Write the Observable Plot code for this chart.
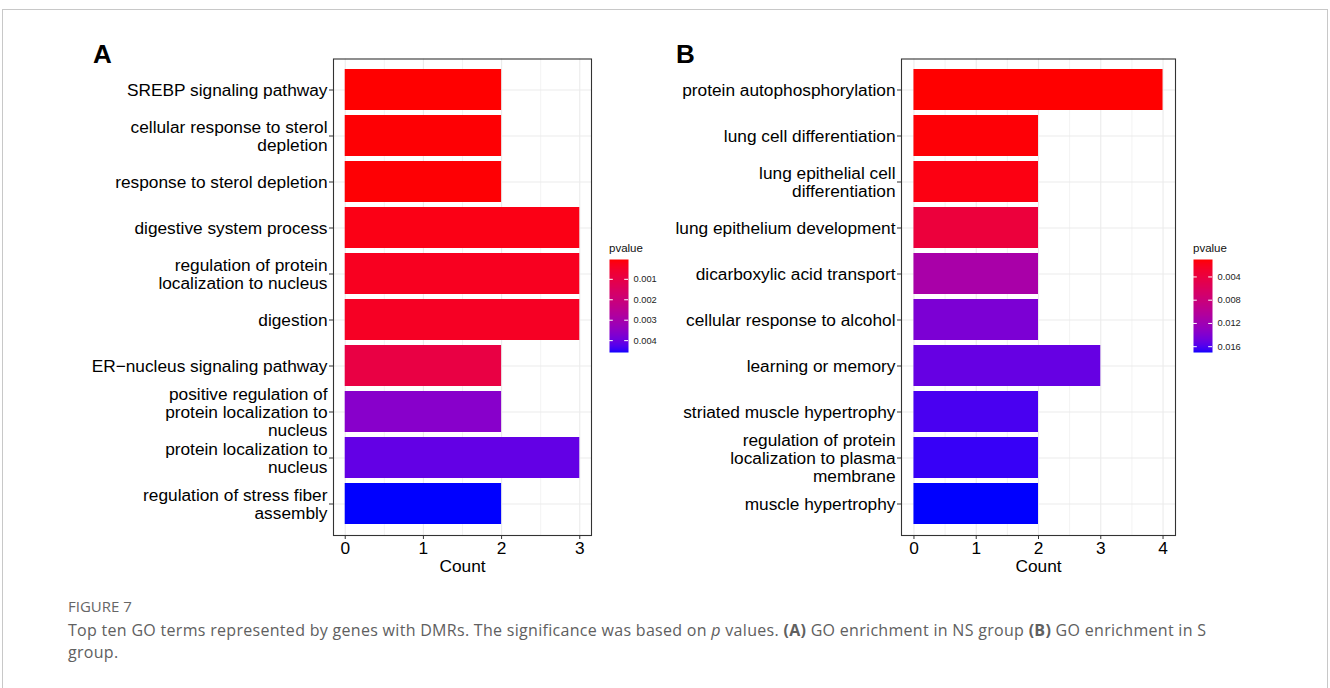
<!DOCTYPE html>
<html>
<head>
<meta charset="utf-8">
<script src="https://cdn.jsdelivr.net/npm/d3@7"></script>
<script src="https://cdn.jsdelivr.net/npm/@observablehq/plot@0.6"></script>
<style>
  html, body { margin: 0; padding: 0; background: #fff; }
  #wrap { position: relative; width: 1330px; height: 688px; overflow: hidden; background: #fff; }
  #box { position: absolute; left: 2px; top: 9px; width: 1326px; height: 720px; border: 1px solid #c8c8c8; box-sizing: border-box; z-index: 10; pointer-events: none; }
  .tag { font-family: "Liberation Sans", Arial, sans-serif; font-weight: bold; font-size: 26px; color: #000; line-height: 1; }
  .ltitle { font-family: "Liberation Sans", Arial, sans-serif; font-size: 11.5px; color: #111; line-height: 1; }
  .figlabel { font-family: "Open Sans", Lato, sans-serif; font-size: 15px; color: #666; line-height: 1.2; }
  .caption { font-family: "Open Sans", Lato, sans-serif; font-size: 16px; letter-spacing: 0.3px; color: #606060; line-height: 22px; white-space: nowrap; }
</style>
</head>
<body>
<div id="wrap">
  <div id="box"></div>
</div>
<script>
// ---- Data: panel A (NS group) ----
const termsA = [
  "SREBP signaling pathway",
  "cellular response to sterol\ndepletion",
  "response to sterol depletion",
  "digestive system process",
  "regulation of protein\nlocalization to nucleus",
  "digestion",
  "ER\u2212nucleus signaling pathway",
  "positive regulation of\nprotein localization to\nnucleus",
  "protein localization to\nnucleus",
  "regulation of stress fiber\nassembly"
];
const countsA = [2, 2, 2, 3, 3, 3, 2, 2, 3, 2];
const pvaluesA = [0.00003, 0.00006, 0.00006, 0.0002, 0.00033, 0.0004, 0.00095, 0.0036, 0.0041, 0.00458];
const xTicksA = [0, 1, 2, 3];
const legendTicksA = [0.001, 0.002, 0.003, 0.004];

// ---- Data: panel B (S group) ----
const termsB = [
  "protein autophosphorylation",
  "lung cell differentiation",
  "lung epithelial cell\ndifferentiation",
  "lung epithelium development",
  "dicarboxylic acid transport",
  "cellular response to alcohol",
  "learning or memory",
  "striated muscle hypertrophy",
  "regulation of protein\nlocalization to plasma\nmembrane",
  "muscle hypertrophy"
];
const countsB = [4, 2, 2, 2, 2, 2, 3, 2, 2, 2];
const pvaluesB = [0.001, 0.00115, 0.0015, 0.0037, 0.0112, 0.0142, 0.0152, 0.0161, 0.0165, 0.017];
const xTicksB = [0, 1, 2, 3, 4];
const legendTicksB = [0.004, 0.008, 0.012, 0.016];

const FONT = "'Liberation Sans', Arial, sans-serif";

function colorScale(pvals) {
  return { type: "linear", domain: d3.extent(pvals), range: ["red", "blue"], interpolate: d3.interpolateLab };
}

function panel(terms, counts, pvals, ticks, width, marginLeft, marginRight) {
  const data = terms.map((t, i) => ({ term: t, count: counts[i], p: pvals[i] }));
  const minor = d3.pairs(ticks).map(([a, b]) => (a + b) / 2);
  const span = ticks[ticks.length - 1] - ticks[0];
  return Plot.plot({
    width, height: 580,
    marginLeft, marginRight, marginTop: 58.5, marginBottom: 45,
    style: { fontFamily: FONT, background: "transparent", color: "#000", overflow: "visible" },
    x: { domain: [ticks[0] - 0.05 * span, ticks[ticks.length - 1] + 0.05 * span] },
    y: { domain: terms, paddingInner: 0.1, paddingOuter: 0.15 },
    color: colorScale(pvals),
    marks: [
      Plot.gridY({ stroke: "#ebebeb", strokeOpacity: 1, strokeWidth: 1.1 }),
      Plot.ruleX(minor, { stroke: "#ebebeb", strokeWidth: 0.6 }),
      Plot.gridX({ ticks, stroke: "#ebebeb", strokeOpacity: 1, strokeWidth: 1.1 }),
      Plot.barX(data, { x: "count", y: "term", fill: "p" }),
      Plot.frame({ stroke: "#333", strokeWidth: 1.1 }),
      Plot.axisY({ tickSize: 4, tickPadding: 2, fontSize: 17.3, lineHeight: 1.05, label: null, stroke: "#333", fill: "#000", textOverflow: null }),
      Plot.axisX({ ticks, tickSize: 4, tickPadding: 2, fontSize: 17.3, label: null, stroke: "#333", fill: "#000", tickFormat: d3.format("d") }),
      Plot.text(["Count"], { frameAnchor: "bottom", dy: 36, fontSize: 17.3, fill: "#000" })
    ]
  });
}

function legend(pvals, ticks) {
  const [lo, hi] = d3.extent(pvals);
  return Plot.plot({
    width: 70, height: 93,
    marginTop: 0, marginBottom: 0, marginLeft: 0, marginRight: 51,
    style: { fontFamily: FONT, background: "transparent", overflow: "visible" },
    x: { domain: [0, 1], axis: null },
    y: { domain: [lo, hi], reverse: true },
    color: colorScale(pvals),
    marks: [
      Plot.raster({ x1: 0, x2: 1, y1: lo, y2: hi, width: 1, height: 200, fill: (x, y) => y, imageRendering: "auto" }),
      Plot.ruleY(ticks, { y: d => d, x1: 0, x2: 0.2, stroke: "white", strokeWidth: 1 }),
      Plot.ruleY(ticks, { y: d => d, x1: 0.8, x2: 1, stroke: "white", strokeWidth: 1 }),
      Plot.axisY({ anchor: "right", ticks, tickSize: 0, tickPadding: 5, fontSize: 9.3, label: null, fill: "#222", tickFormat: d3.format(".3f") })
    ]
  });
}

const wrap = document.getElementById("wrap");
function place(el, left, top) {
  el.style.position = "absolute";
  el.style.left = left + "px";
  el.style.top = top + "px";
  wrap.appendChild(el);
  return el;
}
function div(cls, html, left, top) {
  const d = document.createElement("div");
  d.className = cls;
  d.innerHTML = html;
  return place(d, left, top);
}

place(panel(termsA, countsA, pvaluesA, xTicksA, 600, 333, 9), 0, 0);
place(panel(termsB, countsB, pvaluesB, xTicksB, 545, 261, 10), 640, 0);

div("tag", "A", 93, 41);
div("tag", "B", 676, 41);

div("ltitle", "pvalue", 609, 243);
place(legend(pvaluesA, legendTicksA), 609, 259);
div("ltitle", "pvalue", 1193, 243);
place(legend(pvaluesB, legendTicksB), 1193, 259);

div("figlabel", "FIGURE 7", 68, 597);
div("caption", "Top ten GO terms represented by genes with DMRs. The significance was based on <i>p</i> values. <b>(A)</b> GO enrichment in NS group <b>(B)</b> GO enrichment in S<br>group.", 68, 619);
</script>
</body>
</html>
